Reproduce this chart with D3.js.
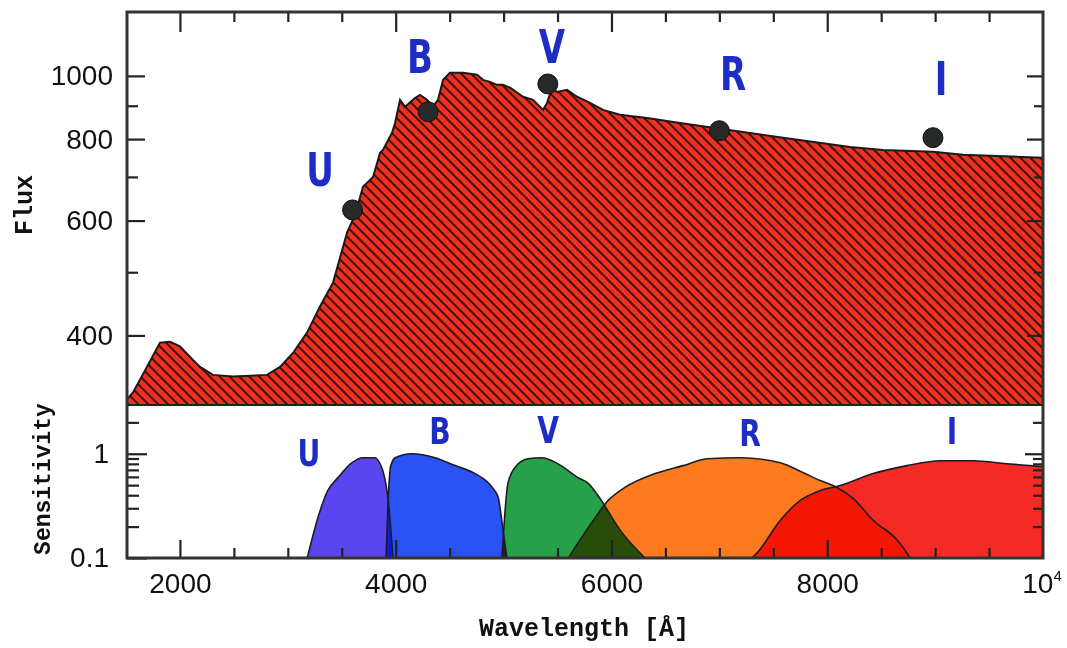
<!DOCTYPE html>
<html><head><meta charset="utf-8">
<script src="https://cdn.jsdelivr.net/npm/d3@7"></script>
<style>body{margin:0;background:#fff}svg{display:block}</style>
</head><body>
<svg id="chart" width="1067" height="648"></svg>
<script>
// ---- data ----
const spectrumWavelength = [1500,1565,1695,1815,1908,2000,2121,2186,2306,2492,2807,2928,3048,3178,3298,3419,3549,3623,3697,3790,3855,3882,3966,3994,4040,4086,4179,4225,4290,4346,4392,4439,4503,4624,4754,4809,4874,4939,4995,5060,5180,5273,5366,5403,5449,5495,5588,5681,5801,5922,6079,6330,6636,6942,7590,8211,8517,8981,9259,10000];
const spectrumFlux = [318,327,358,390,391,385,367,358,348,346,348,358,376,404,443,482,575,612,676,700,762,770,818,847,919,897,925,935,919,897,919,986,1011,1011,1004,986,979,969,969,959,929,919,887,909,959,945,952,929,909,887,872,862,847,833,804,778,770,765,757,749];

const bands = ["U","B","V","R","I"];
const bandWavelength = [3600,4300,5410,7000,8980];
const bandFlux = [623,881,972,824,804];

const filterU = [[3180,0.1],[3280,0.246],[3370,0.444],[3465,0.59],[3595,0.82],[3690,0.916],[3810,0.916],[3855,0.80],[3880,0.69],[3930,0.36],[3975,0.1]];
const filterB = [[3910,0.1],[3930,0.36],[3955,0.77],[3995,0.916],[4150,1.0],[4365,0.916],[4550,0.77],[4735,0.645],[4895,0.475],[4950,0.38],[4995,0.185],[5030,0.1]];
const filterV = [[4985,0.1],[5040,0.52],[5105,0.736],[5225,0.896],[5355,0.916],[5505,0.80],[5690,0.59],[5785,0.52],[5875,0.398],[6080,0.185],[6310,0.1]];
const filterR = [[5600,0.1],[5800,0.206],[5970,0.357],[6125,0.475],[6405,0.645],[6665,0.769],[6885,0.896],[7190,0.916],[7565,0.82],[7775,0.66],[7935,0.553],[8090,0.475],[8240,0.373],[8425,0.23],[8650,0.148],[8770,0.1]];
const filterI = [[7300,0.1],[7350,0.112],[7565,0.23],[7750,0.357],[7935,0.444],[8120,0.496],[8425,0.645],[8740,0.769],[9045,0.858],[9350,0.858],[9665,0.803],[10000,0.752]];
const filters = [filterU, filterB, filterV, filterR, filterI];
const filterColors = ["#5a46ee","#2a52f4","#27a04a","#ff7a1e","#f52a25"];

const fluxMajorTicks = [400,600,800,1000];
const fluxMinorTicks = [500,700,900];
const sensMajorTicks = [0.1,1];
const sensMinorTicks = [0.2,0.3,0.4,0.5,0.6,0.7,0.8,0.9,2];
const waveMajorTicks = [2000,4000,6000,8000];
const waveMinorTicks = [2500,3000,3500,4500,5000,5500,6500,7000,7500,8500,9000,9500];

// ---- layout ----
const L = 127, R = 1043, T1 = 12, B1 = 404, B2 = 558;
const svg = d3.select("#chart");
const x = d3.scaleLinear().domain([1500,10000]).range([126,1043]);
const yF = d3.scaleLog().domain([314,1253]).range([B1,T1]);
const yS = d3.scaleLog().domain([0.1,3]).range([B2,B1]);

const defs = svg.append("defs");
const pat = defs.append("pattern").attr("id","hatch").attr("patternUnits","userSpaceOnUse")
  .attr("width",7).attr("height",7).attr("patternTransform","rotate(-45)");
pat.append("rect").attr("width",7).attr("height",7).attr("fill","#f0301f");
pat.append("line").attr("x1",1).attr("y1",0).attr("x2",1).attr("y2",7).attr("stroke","#2a0c0c").attr("stroke-width",1.8);
defs.append("clipPath").attr("id","clipTop").append("rect").attr("x",L).attr("y",T1).attr("width",R-L).attr("height",B1-T1);
defs.append("clipPath").attr("id","clipBot").append("rect").attr("x",L).attr("y",B1).attr("width",R-L).attr("height",B2-B1);

// ---- top panel: spectrum ----
const spec = spectrumWavelength.map((w,i)=>[w,spectrumFlux[i]]);
const gTop = svg.append("g").attr("clip-path","url(#clipTop)");
gTop.append("path").datum(spec)
  .attr("d", d3.area().x(d=>x(d[0])).y0(B1).y1(d=>yF(d[1])))
  .attr("fill","url(#hatch)");
gTop.append("path").datum(spec)
  .attr("d", d3.line().x(d=>x(d[0])).y(d=>yF(d[1])))
  .attr("fill","none").attr("stroke","#1a1a1a").attr("stroke-width",2);

svg.append("g").selectAll("circle").data(bands).join("circle")
  .attr("cx",(d,i)=>x(bandWavelength[i])).attr("cy",(d,i)=>yF(bandFlux[i]))
  .attr("r",10).attr("fill","#262a2a").attr("stroke","#111").attr("stroke-width",1);

// ---- bottom panel: filters ----
const gBot = svg.append("g").attr("clip-path","url(#clipBot)");
const fArea = d3.area().curve(d3.curveMonotoneX).x(d=>x(d[0])).y0(yS(0.1)).y1(d=>yS(d[1]));
const fLine = d3.line().curve(d3.curveMonotoneX).x(d=>x(d[0])).y(d=>yS(d[1]));
filters.forEach((f,i)=>{
  gBot.append("path").datum(f).attr("d",fArea).attr("fill",filterColors[i]).style("mix-blend-mode","multiply");
});
filters.forEach((f,i)=>{
  gBot.append("path").datum(f).attr("d",fLine).attr("fill","none").attr("stroke","#1c1c24").attr("stroke-width",1.6);
});

// ---- axes / ticks ----
function styleAxis(g){ g.select(".domain").remove(); g.selectAll(".tick line").attr("stroke","#222").attr("stroke-width",2.2);
  g.selectAll(".tick text").attr("fill","#111").style("font-family","'Liberation Sans',Arial,sans-serif").style("font-size","28px"); }

// top panel
svg.append("g").attr("transform",`translate(0,${T1})`).call(d3.axisTop(x).tickValues(waveMajorTicks).tickSize(-20).tickFormat("")).call(styleAxis);
svg.append("g").attr("transform",`translate(0,${T1})`).call(d3.axisTop(x).tickValues(waveMinorTicks).tickSize(-10).tickFormat("")).call(styleAxis);
svg.append("g").attr("transform",`translate(${L},0)`).call(d3.axisLeft(yF).tickValues(fluxMajorTicks).tickSize(-18).tickPadding(14).tickFormat(d3.format("d"))).call(styleAxis);
svg.append("g").attr("transform",`translate(${L},0)`).call(d3.axisLeft(yF).tickValues(fluxMinorTicks).tickSize(-11).tickFormat("")).call(styleAxis);
svg.append("g").attr("transform",`translate(${R},0)`).call(d3.axisRight(yF).tickValues(fluxMajorTicks).tickSize(-16).tickFormat("")).call(styleAxis);
svg.append("g").attr("transform",`translate(${R},0)`).call(d3.axisRight(yF).tickValues(fluxMinorTicks).tickSize(-9).tickFormat("")).call(styleAxis);

// bottom panel
svg.append("g").attr("transform",`translate(0,${B2})`).call(d3.axisBottom(x).tickValues(waveMajorTicks).tickSize(-18).tickPadding(15).tickFormat(d3.format("d"))).call(styleAxis);
svg.append("g").attr("transform",`translate(0,${B2})`).call(d3.axisBottom(x).tickValues(waveMinorTicks).tickSize(-10).tickFormat("")).call(styleAxis);
svg.append("g").attr("transform",`translate(${L},0)`).call(d3.axisLeft(yS).tickValues(sensMajorTicks).tickSize(-20).tickPadding(18).tickFormat(d=>d<1?"0.1":"1")).call(styleAxis);
svg.append("g").attr("transform",`translate(${L},0)`).call(d3.axisLeft(yS).tickValues(sensMinorTicks).tickSize(-12).tickFormat("")).call(styleAxis);
svg.append("g").attr("transform",`translate(${R},0)`).call(d3.axisRight(yS).tickValues([1]).tickSize(-18).tickFormat("")).call(styleAxis);
svg.append("g").attr("transform",`translate(${R},0)`).call(d3.axisRight(yS).tickValues(sensMinorTicks).tickSize(-10).tickFormat("")).call(styleAxis);

const tenK = svg.append("text").attr("x",x(10000)-1).attr("y",593).attr("text-anchor","middle")
  .style("font-family","'Liberation Sans',Arial,sans-serif").style("font-size","28px").attr("fill","#111");
tenK.append("tspan").text("10");
tenK.append("tspan").attr("dy",-12).style("font-size","15px").text("4");

// frames
svg.append("path").attr("d",`M${L},${B1}V${T1}H${R}V${B1}`).attr("fill","none").attr("stroke","#333").attr("stroke-width",3);
svg.append("path").attr("d",`M${L},${B1}V${B2}H${R}V${B1}`).attr("fill","none").attr("stroke","#333").attr("stroke-width",3);
svg.append("line").attr("x1",L).attr("x2",R).attr("y1",B1+1).attr("y2",B1+1).attr("stroke","#222").attr("stroke-width",2);

// axis titles
const mono = "'Liberation Mono','DejaVu Sans Mono',monospace";
svg.append("text").attr("transform","translate(32,205) rotate(-90)").attr("text-anchor","middle")
  .style("font-family",mono).style("font-weight","bold").style("font-size","25px").attr("fill","#111").text("Flux");
svg.append("text").attr("transform","translate(50,479) rotate(-90)").attr("text-anchor","middle")
  .style("font-family",mono).style("font-weight","bold").style("font-size","23px").attr("fill","#111").text("Sensitivity");
svg.append("text").attr("x",584).attr("y",636).attr("text-anchor","middle")
  .style("font-family",mono).style("font-weight","bold").style("font-size","25px").attr("fill","#111").text("Wavelength [Å]");

// band letters
const topLabelPos = [[320,170],[420,57],[552,47],[733,74],[941,79]];
const botLabelPos = [[309,453],[440,431],[548,430],[750,433],[952,431]];
const lf = "'DejaVu Sans',sans-serif";
svg.append("g").selectAll("text").data(bands).join("text")
  .attr("transform",(d,i)=>`translate(${topLabelPos[i][0]},${topLabelPos[i][1]}) scale(0.74,1)`)
  .attr("text-anchor","middle").attr("dominant-baseline","central")
  .style("font-family",lf).style("font-weight","bold").style("font-size","46px").attr("fill","#1e2ec4").text(d=>d);
svg.append("g").selectAll("text").data(bands).join("text")
  .attr("transform",(d,i)=>`translate(${botLabelPos[i][0]},${botLabelPos[i][1]}) scale(0.74,1)`)
  .attr("text-anchor","middle").attr("dominant-baseline","central")
  .style("font-family",lf).style("font-weight","bold").style("font-size","38px").attr("fill","#1e2ec4").text(d=>d);
</script>
</body></html>
